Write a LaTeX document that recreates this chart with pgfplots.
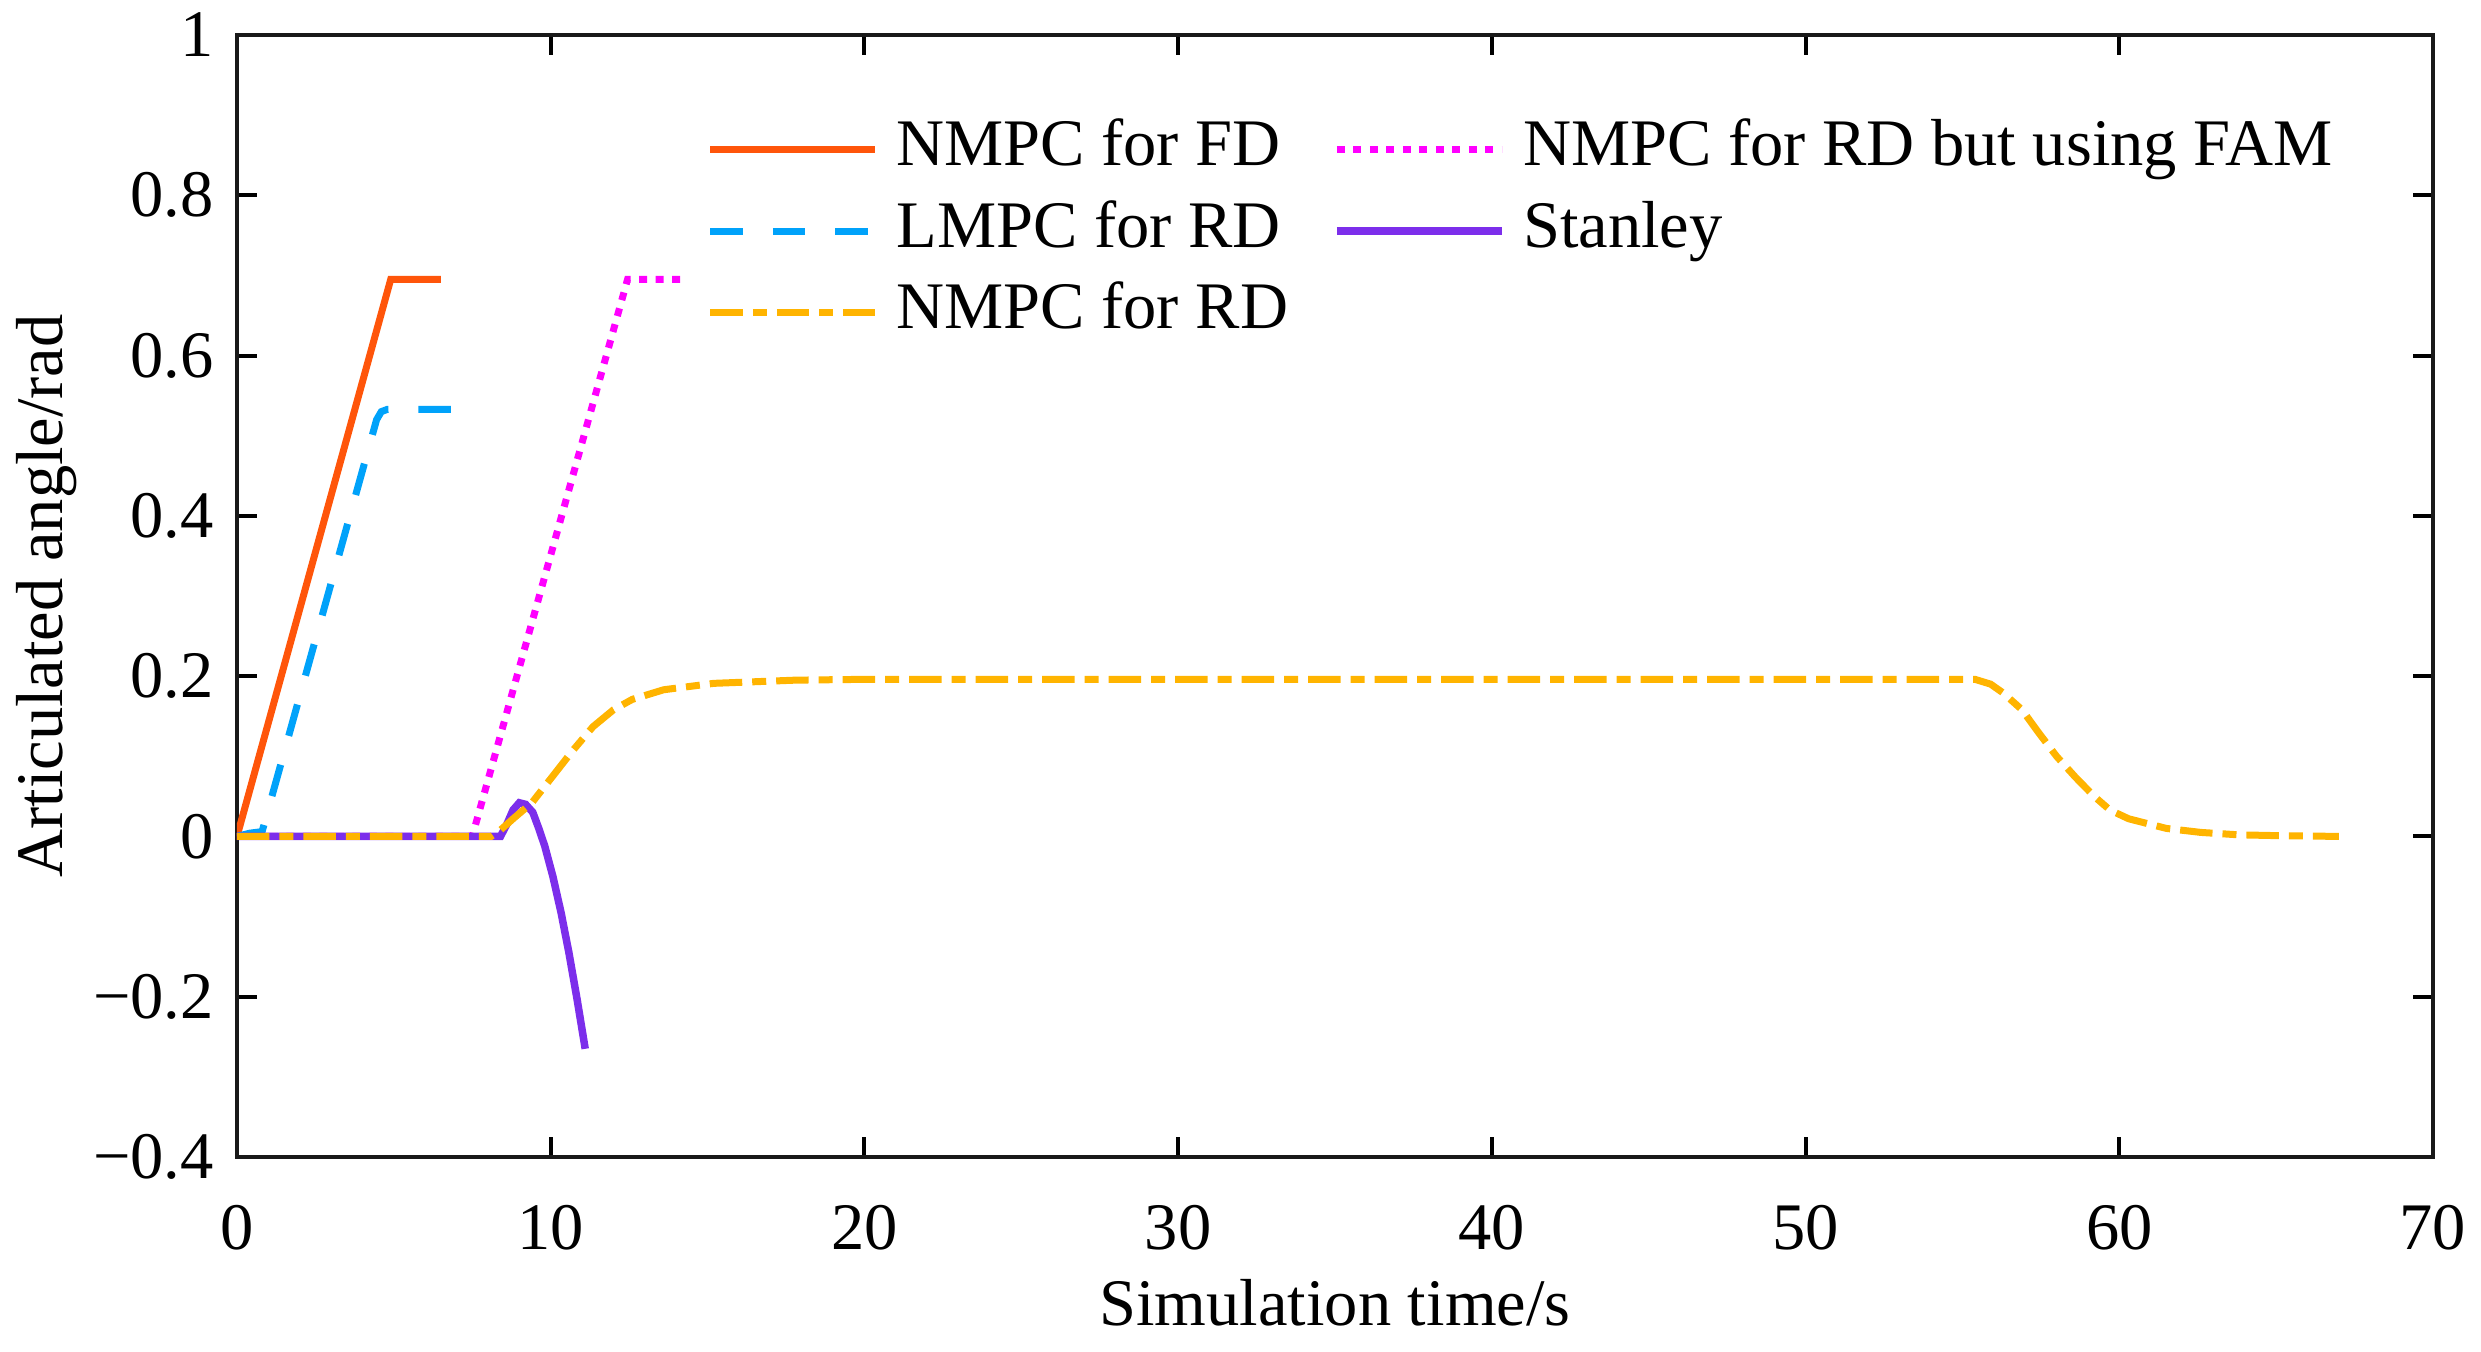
\documentclass[border=0pt]{standalone}
\usepackage{fontspec}
\setmainfont{Liberation Serif}
\usepackage{pgfplots}
\pgfplotsset{compat=1.18}
\definecolor{cFD}{RGB}{255,85,10}
\definecolor{cLM}{RGB}{0,162,250}
\definecolor{cRD}{RGB}{255,180,0}
\definecolor{cFAM}{RGB}{255,0,255}
\definecolor{cST}{RGB}{124,46,235}
\begin{document}
\fontsize{13.3}{16}\selectfont
\begin{tikzpicture}
\path[use as bounding box] (-47.4pt,-39pt) rectangle (448.8pt,231.4pt);
\begin{axis}[
  at={(0,0)}, anchor=south west,
  scale only axis, width=439.2pt, height=224.4pt,
  xmin=0, xmax=70, ymin=-0.4, ymax=1,
  xtick={0,10,20,30,40,50,60,70},
  xticklabels={0,10,20,30,40,50,60,70},
  ytick={-0.4,-0.2,0,0.2,0.4,0.6,0.8,1},
  yticklabels={−0.4,−0.2,0,0.2,0.4,0.6,0.8,1},
  tick align=inside,
  major tick length=4pt,
  tick style={line width=0.8pt, black},
  axis line style={line width=0.8pt, black!90},
  ticklabel style={font=\fontsize{13.3}{16}\selectfont},
  xticklabel style={yshift=-5pt},
  legend columns=2,
  legend cell align=left,
  legend image code/.code={\draw[#1] (0pt,0pt) -- (33pt,0pt);},
  legend style={at={(rel axis cs:0,1)}, anchor=north west, xshift=94pt, yshift=-16.7pt,
    draw=none, fill=none, inner sep=0pt, outer sep=0pt,
    font=\fontsize{13.3}{16}\selectfont,
    nodes={inner sep=0pt, text height=9.5pt, text depth=3pt},
    row sep=3.8pt, column sep=3.5pt,
    /tikz/every even column/.append style={column sep=9pt}},
]
\addplot[cFD, line width=1.4pt] coordinates {(0,0) (4.9,0.695) (6.5,0.695)};
\addlegendentry{NMPC for FD}
\addplot[cFAM, line width=1.4pt, dash pattern=on 1.6pt off 1.7pt] coordinates {(0,0) (7.5,0) (12.45,0.695) (14.2,0.695)};
\addlegendentry{NMPC for RD but using FAM}
\addplot[cLM, line width=1.4pt, dash pattern=on 6.5pt off 6pt] coordinates {(0,0) (0.4,0.004) (0.8,0.006) (4.45,0.52) (4.6,0.53) (4.8,0.533) (7.1,0.533)};
\addlegendentry{LMPC for RD}
\addplot[cST, line width=1.5pt] coordinates {(0,0) (8.4,0) (8.6,0.015) (8.8,0.033) (9.0,0.042) (9.2,0.04) (9.43,0.03) (9.62,0.01) (9.81,-0.012) (10.07,-0.05) (10.33,-0.095) (10.58,-0.145) (10.84,-0.203) (11.1,-0.265)};
\addlegendentry{Stanley}
\addplot[cRD, line width=1.4pt, dash pattern=on 6.5pt off 2pt on 2.8pt off 2pt] coordinates {(0,0) (8.1,0) (8.4,0.008) (8.8,0.022) (9.4,0.042) (10.0,0.072) (10.7,0.107) (11.35,0.137) (12.0,0.158) (12.6,0.171) (13.6,0.183) (15.2,0.191) (17.8,0.195) (20,0.196) (55.4,0.196) (55.9,0.19) (56.3,0.179) (56.9,0.158) (57.4,0.131) (58.0,0.1) (58.6,0.074) (59.2,0.05) (59.7,0.033) (60.3,0.022) (61.5,0.01) (62.6,0.005) (63.8,0.002) (65,0.001) (67,0)};
\addlegendentry{NMPC for RD}
\end{axis}
\path (current axis.south) ++(0,-33.8pt) node[anchor=base, inner sep=0pt] {Simulation time/s};
\path (current axis.west) ++(-34.8pt,0) node[anchor=base, rotate=90, inner sep=0pt] {Articulated angle/rad};
\end{tikzpicture}
\end{document}
